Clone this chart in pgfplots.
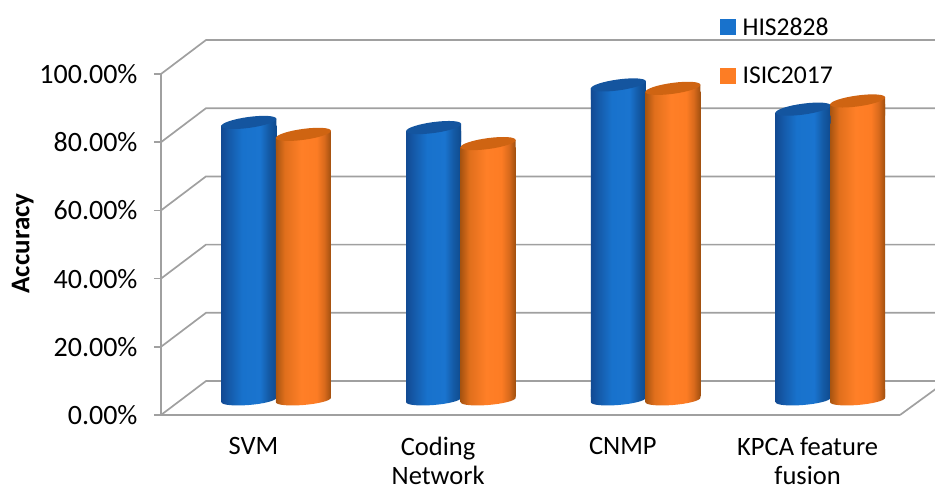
\documentclass[border=0pt]{standalone}
\usepackage{pgfplots}
\usepackage{pgfplotstable}
\usepackage{fontspec}
\setmainfont{Carlito}
\pgfplotsset{compat=1.18}

\definecolor{gridgray}{HTML}{A0A0A0}
\definecolor{hisblue}{HTML}{1872CC}
\definecolor{isicorange}{HTML}{FD7D24}
\definecolor{hiscap}{HTML}{14559F}
\definecolor{isiccap}{HTML}{CF6412}

\definecolor{ba}{HTML}{124A93}
\definecolor{bb}{HTML}{155CAC}
\definecolor{bc}{HTML}{1872CC}
\definecolor{bd}{HTML}{1A74CF}
\definecolor{be}{HTML}{145AA5}
\definecolor{bf}{HTML}{0F4A8E}
\definecolor{oa}{HTML}{A85410}
\definecolor{ob}{HTML}{E06F1C}
\definecolor{oc}{HTML}{FF7F27}
\definecolor{od}{HTML}{FD7C24}
\definecolor{oe}{HTML}{D96A1C}
\definecolor{of}{HTML}{A04F0F}

\pgfdeclarehorizontalshading{cylblue}{100bp}{
  color(0bp)=(ba); color(25bp)=(ba); color(33bp)=(bb); color(44bp)=(bc);
  color(60bp)=(bd); color(68bp)=(be); color(75bp)=(bf); color(100bp)=(bf)}
\pgfdeclarehorizontalshading{cylorange}{100bp}{
  color(0bp)=(oa); color(25bp)=(oa); color(33bp)=(ob); color(48bp)=(oc);
  color(62bp)=(od); color(69bp)=(oe); color(75bp)=(of); color(100bp)=(of)}

% Slanted elliptical ends of the cylinders, spelled out point by point.
% #1 horizontal offset of the bar, #2 shading, #3 lid colour
\newcommand{\cyltop}[3]{%
  \shade[draw=none,shading=#2]
    ({(#1-27.5)*1pt},{(-14.6)*1pt}) -- ({(#1-27.5)*1pt},{(-3.6)*1pt})
    -- ({(#1+27.5)*1pt},{(3.6)*1pt}) -- ({(#1+27.5)*1pt},{(-14.6)*1pt}) -- cycle;
  \fill[draw=none,#3]
    ({(#1-27.5)*1pt},{(-3.58)*1pt})
    .. controls ({(#1-27.5)*1pt},{(-0.54)*1pt}) and ({(#1-15.2)*1pt},{(3.51)*1pt}) .. ({(#1)*1pt},{(5.5)*1pt})
    .. controls ({(#1+15.2)*1pt},{(7.49)*1pt}) and ({(#1+27.5)*1pt},{(6.62)*1pt}) .. ({(#1+27.5)*1pt},{(3.58)*1pt})
    .. controls ({(#1+27.5)*1pt},{(0.54)*1pt}) and ({(#1+15.2)*1pt},{(-3.51)*1pt}) .. ({(#1)*1pt},{(-5.5)*1pt})
    .. controls ({(#1-15.2)*1pt},{(-7.49)*1pt}) and ({(#1-27.5)*1pt},{(-6.62)*1pt}) .. cycle;}
\newcommand{\cylbottom}[2]{%
  \shade[draw=none,shading=#2]
    ({(#1-27.5)*1pt},{(11)*1pt}) -- ({(#1-27.5)*1pt},{(-2.2)*1pt})
    .. controls ({(#1-27.5)*1pt},{(-4.96)*1pt}) and ({(#1-15.2)*1pt},{(-6.22)*1pt}) .. ({(#1)*1pt},{(-5)*1pt})
    .. controls ({(#1+15.2)*1pt},{(-3.78)*1pt}) and ({(#1+27.5)*1pt},{(-0.56)*1pt}) .. ({(#1+27.5)*1pt},{(2.2)*1pt})
    -- ({(#1+27.5)*1pt},{(11)*1pt}) -- cycle;}
\pgfdeclareplotmark{histop}{\cyltop{-27.5}{cylblue}{hiscap}}
\pgfdeclareplotmark{isictop}{\cyltop{27}{cylorange}{isiccap}}
\pgfdeclareplotmark{hisbase}{\cylbottom{-27.5}{cylblue}}
\pgfdeclareplotmark{isicbase}{\cylbottom{27}{cylorange}}

% One shaded cylinder body per row, so the gradient spans that bar alone.
% #1 table, #2 shading, #3 shift, #4 row, #5 next row
\newcommand{\onebody}[5]{%
  \addplot[ybar, bar width=55pt, bar shift=#3, draw=none, shading=#2, yshift=3.5pt, forget plot,
    skip coords between index={0}{#4}, skip coords between index={#5}{4}]
    table[x=c, y expr=\thisrow{v}-2.05] {#1};}

% Accuracy per method, positions 0-3 along the category axis
\pgfplotstableread{
c v
0 81.4
1 79.9
2 92.4
3 85.3
}\hisdata
\pgfplotstableread{
c v
0 77.9
1 75.2
2 91.4
3 87.7
}\isicdata
\pgfplotstableread{
c z
0 0
1 0
2 0
3 0
}\basedata

\begin{document}
\begin{tikzpicture}[x=1pt,y=1pt]
\path[use as bounding box] (0,0) rectangle (935,491);

% Front plane: value axis, category labels and the wall grid
\begin{axis}[
  at={(161pt,76pt)}, anchor=south west,
  scale only axis, width=739pt, height=341pt,
  xmin=-0.5, xmax=3.5, ymin=0, ymax=100,
  clip=false,
  axis lines=left,
  axis line style={-, gridgray, line width=1.7pt},
  tick style={gridgray, line width=1.7pt},
  tick align=outside,
  major tick length=7pt,
  xtick={0,1,2,3},
  x tick style={draw=none},
  xticklabels={SVM,{Coding\\Network},CNMP,{KPCA feature\\fusion}},
  xticklabel style={align=center, font=\fontsize{26.5}{29}\selectfont, text=black, inner ysep=0pt, yshift=-15pt},
  ytick={0,20,40,60,80,100},
  yticklabel={\pgfmathprintnumber[fixed,fixed zerofill,precision=2]{\tick}\%},
  yticklabel style={font=\fontsize{28}{30}\selectfont, text=black, xshift=-13pt,
    /pgf/number format/assume math mode=true},
  ylabel={\textbf{Accuracy}},
  ylabel style={font=\fontsize{27}{28}\selectfont, at={(axis description cs:-0.187,0.503)}, anchor=center},
]
\foreach \v in {0,20,40,60,80,100}{
  \edef\temp{\noexpand\addplot[gridgray, line width=1.7pt, forget plot]
    coordinates {(-0.5,\v) (-0.2564,\v+9.97) (3.7,\v+9.97)};}
  \temp
}
\addplot[gridgray, line width=1.7pt, forget plot] coordinates {(3.5,0) (3.7,7.9)};
\end{axis}

% Cylinders, standing half way into the floor
\begin{axis}[
  at={(184pt,91pt)}, anchor=south west,
  scale only axis, width=739pt, height=341pt,
  xmin=-0.5, xmax=3.5, ymin=0, ymax=100,
  clip=false, hide axis,
  legend cell align=left,
  legend style={draw=none, fill=none, at={(0.7253,1.122)}, anchor=north west,
    font=\fontsize{25.6}{30}\selectfont, row sep=30pt, inner sep=0pt,
    nodes={inner xsep=7pt, inner ysep=0pt}},
]
\addlegendimage{legend image code/.code={\fill[hisblue] (0pt,-7.5pt) rectangle (15pt,7.5pt);}}
\addlegendentry{HIS2828}
\addlegendimage{legend image code/.code={\fill[isicorange] (0pt,-7.5pt) rectangle (15pt,7.5pt);}}
\addlegendentry{ISIC2017}

\addplot[only marks, mark=hisbase, forget plot] table[x=c,y=z] {\basedata};
\onebody{\hisdata}{cylblue}{-27.5pt}{0}{1}
\onebody{\hisdata}{cylblue}{-27.5pt}{1}{2}
\onebody{\hisdata}{cylblue}{-27.5pt}{2}{3}
\onebody{\hisdata}{cylblue}{-27.5pt}{3}{4}
\addplot[only marks, mark=histop, forget plot] table[x=c,y=v] {\hisdata};

\addplot[only marks, mark=isicbase, forget plot] table[x=c,y=z] {\basedata};
\onebody{\isicdata}{cylorange}{27pt}{0}{1}
\onebody{\isicdata}{cylorange}{27pt}{1}{2}
\onebody{\isicdata}{cylorange}{27pt}{2}{3}
\onebody{\isicdata}{cylorange}{27pt}{3}{4}
\addplot[only marks, mark=isictop, forget plot] table[x=c,y=v] {\isicdata};
\end{axis}
\end{tikzpicture}
\end{document}
